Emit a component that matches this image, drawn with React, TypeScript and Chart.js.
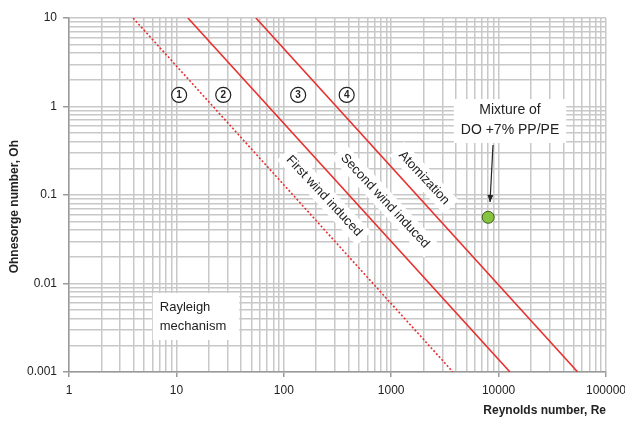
import React, { useEffect, useRef } from "react";
import { Chart, registerables } from "chart.js";

Chart.register(...registerables);

// ---- data ----
const reynoldsMajorTicks = [1, 10, 100, 1000, 10000, 100000];
const ohnesorgeMajorTicks = [0.001, 0.01, 0.1, 1, 10];

const firstWindRe = [3.95, 3760];
const firstWindOh = [10, 0.001];
const secondWindRe = [12.8, 12770];
const secondWindOh = [10, 0.001];
const atomizationRe = [55, 54500];
const atomizationOh = [10, 0.001];

const mixtureRe = [8000];
const mixtureOh = [0.056];

const regionNumbers = ["1", "2", "3", "4"];
const regionRe = [10.6, 27.3, 136, 385];
const regionOh = [1.35, 1.35, 1.35, 1.35];

const regimeNames = ["First wind induced", "Second wind induced", "Atomization"];
const regimeRe = [237, 876, 2020];
const regimeOh = [0.0975, 0.0855, 0.156];

const rayleighLines = ["Rayleigh", "mechanism"];
const rayleighRe = 7.0;
const rayleighOh = [0.00542, 0.00331];

const mixtureLines = ["Mixture of", "DO +7% PP/PE"];
const mixtureLabelRe = 12770;
const mixtureLabelOh = [0.913, 0.543];
const arrowRe = [8870, 8320];
const arrowOh = [0.367, 0.0834];

const FONT = "'Liberation Sans', Arial, sans-serif";
const RED = "#e8302e";

function buildLogTicks(majors: number[]) {
  const out: { value: number; major: boolean }[] = [];
  for (let i = 0; i < majors.length - 1; i++) {
    for (let k = 1; k <= 9; k++) {
      out.push({ value: +(majors[i] * k).toPrecision(6), major: k === 1 });
    }
  }
  out.push({ value: majors[majors.length - 1], major: true });
  return out;
}

function isMajor(v: number, majors: number[]) {
  return majors.some((m) => Math.abs(m - v) / m < 1e-6);
}

const annotationPlugin = {
  id: "annotations",
  beforeDatasetsDraw(chart: any) {
    const { ctx, scales } = chart;
    const x = scales.x;
    const y = scales.y;
    ctx.save();
    ctx.textAlign = "center";
    ctx.textBaseline = "middle";

    // rotated regime labels
    ctx.font = `13px ${FONT}`;
    regimeNames.forEach((name, i) => {
      const px = x.getPixelForValue(regimeRe[i]);
      const py = y.getPixelForValue(regimeOh[i]);
      const w = ctx.measureText(name).width;
      ctx.save();
      ctx.translate(px, py);
      ctx.rotate((47 * Math.PI) / 180);
      ctx.fillStyle = "#ffffff";
      ctx.fillRect(-w / 2 - 6, -10, w + 12, 20);
      ctx.fillStyle = "#222222";
      ctx.fillText(name, 0, 0);
      ctx.restore();
    });

    // Rayleigh box
    ctx.font = `13px ${FONT}`;
    const rx = x.getPixelForValue(rayleighRe);
    const ry0 = y.getPixelForValue(rayleighOh[0]);
    const ry1 = y.getPixelForValue(rayleighOh[1]);
    const rw = Math.max(...rayleighLines.map((t) => ctx.measureText(t).width));
    ctx.fillStyle = "#ffffff";
    ctx.fillRect(rx - 7, ry0 - 14, rw + 20, ry1 - ry0 + 28);
    ctx.fillStyle = "#222222";
    ctx.textAlign = "left";
    ctx.fillText(rayleighLines[0], rx, ry0);
    ctx.fillText(rayleighLines[1], rx, ry1);

    // Mixture box
    ctx.font = `14px ${FONT}`;
    ctx.textAlign = "center";
    const mx = x.getPixelForValue(mixtureLabelRe);
    const my0 = y.getPixelForValue(mixtureLabelOh[0]);
    const my1 = y.getPixelForValue(mixtureLabelOh[1]);
    const mw = Math.max(...mixtureLines.map((t) => ctx.measureText(t).width));
    ctx.fillStyle = "#ffffff";
    ctx.fillRect(mx - mw / 2 - 7, my0 - 11, mw + 14, my1 - my0 + 24);
    ctx.fillStyle = "#222222";
    ctx.fillText(mixtureLines[0], mx, my0);
    ctx.fillText(mixtureLines[1], mx, my1);

    // circled numbers
    ctx.font = `bold 10px ${FONT}`;
    regionNumbers.forEach((n, i) => {
      const px = x.getPixelForValue(regionRe[i]);
      const py = y.getPixelForValue(regionOh[i]);
      ctx.fillStyle = "#ffffff";
      ctx.beginPath();
      ctx.arc(px, py, 7.5, 0, Math.PI * 2);
      ctx.fill();
      ctx.strokeStyle = "#222222";
      ctx.lineWidth = 1.2;
      ctx.stroke();
      ctx.fillStyle = "#222222";
      ctx.fillText(n, px, py + 0.5);
    });
    ctx.restore();
  },
  afterDatasetsDraw(chart: any) {
    const { ctx, scales } = chart;
    const x = scales.x;
    const y = scales.y;
    const x0 = x.getPixelForValue(arrowRe[0]);
    const y0 = y.getPixelForValue(arrowOh[0]);
    const x1 = x.getPixelForValue(arrowRe[1]);
    const y1 = y.getPixelForValue(arrowOh[1]);
    ctx.save();
    ctx.strokeStyle = "#222222";
    ctx.fillStyle = "#222222";
    ctx.lineWidth = 1.2;
    ctx.beginPath();
    ctx.moveTo(x0, y0);
    ctx.lineTo(x1, y1);
    ctx.stroke();
    const a = Math.atan2(y1 - y0, x1 - x0);
    ctx.beginPath();
    ctx.moveTo(x1, y1);
    ctx.lineTo(x1 - 7 * Math.cos(a) + 3 * Math.sin(a), y1 - 7 * Math.sin(a) - 3 * Math.cos(a));
    ctx.lineTo(x1 - 7 * Math.cos(a) - 3 * Math.sin(a), y1 - 7 * Math.sin(a) + 3 * Math.cos(a));
    ctx.closePath();
    ctx.fill();
    ctx.restore();
  },
};

function toPoints(xs: number[], ys: number[]) {
  return xs.map((v, i) => ({ x: v, y: ys[i] }));
}

export default function App() {
  const ref = useRef<HTMLCanvasElement | null>(null);

  useEffect(() => {
    document.body.style.margin = "0";
    const canvas = ref.current;
    if (!canvas) return;
    const lineBase = {
      showLine: true,
      pointRadius: 0,
      borderColor: RED,
      borderWidth: 1.6,
      fill: false,
    };
    const chart = new Chart(canvas, {
      type: "scatter",
      data: {
        datasets: [
          { ...lineBase, label: "First wind", data: toPoints(firstWindRe, firstWindOh), borderDash: [2, 2] },
          { ...lineBase, label: "Second wind", data: toPoints(secondWindRe, secondWindOh) },
          { ...lineBase, label: "Atomization", data: toPoints(atomizationRe, atomizationOh) },
          {
            label: "Mixture",
            data: toPoints(mixtureRe, mixtureOh),
            pointRadius: 6,
            pointBackgroundColor: "#86c440",
            pointBorderColor: "#3d5a1e",
            pointBorderWidth: 1,
          },
        ],
      },
      options: {
        responsive: false,
        animation: false,
        events: [],
        layout: { padding: { top: 18, right: 0, left: 0, bottom: 0 } },
        plugins: { legend: { display: false }, tooltip: { enabled: false } },
        scales: {
          x: {
            type: "logarithmic",
            min: 1,
            max: 100000,
            afterFit: (s: any) => {
              s.height = 49;
              s.paddingLeft = 0;
              s.paddingRight = 19;
            },
            afterBuildTicks: (s: any) => {
              s.ticks = buildLogTicks(reynoldsMajorTicks);
            },
            grid: {
              color: "#c8c8c8",
              lineWidth: 1.5,
              tickLength: 5,
              tickColor: (c: any) => (c.tick && isMajor(c.tick.value, reynoldsMajorTicks) ? "#9a9a9a" : "rgba(0,0,0,0)"),
            },
            border: { color: "#9a9a9a", width: 1.5 },
            ticks: {
              autoSkip: false,
              maxRotation: 0,
              padding: 6,
              color: "#222222",
              font: { family: FONT, size: 12 },
              callback: (v: any) => (isMajor(Number(v), reynoldsMajorTicks) ? String(Number(v)) : ""),
            },
            title: {
              display: true,
              text: "Reynolds number, Re",
              align: "end",
              color: "#222222",
              font: { family: FONT, size: 12, weight: "bold" },
              padding: { top: 0, bottom: 3 },
            },
          },
          y: {
            type: "logarithmic",
            min: 0.001,
            max: 10,
            afterFit: (s: any) => {
              s.width = 69;
              s.paddingTop = 0;
              s.paddingBottom = 0;
            },
            afterBuildTicks: (s: any) => {
              s.ticks = buildLogTicks(ohnesorgeMajorTicks);
            },
            grid: {
              color: "#c8c8c8",
              lineWidth: 1.5,
              tickLength: 6,
              tickColor: (c: any) => (c.tick && isMajor(c.tick.value, ohnesorgeMajorTicks) ? "#9a9a9a" : "rgba(0,0,0,0)"),
            },
            border: { color: "#9a9a9a", width: 1.5 },
            ticks: {
              autoSkip: false,
              padding: 6,
              color: "#222222",
              font: { family: FONT, size: 12 },
              callback: (v: any) => (isMajor(Number(v), ohnesorgeMajorTicks) ? String(Number(v)) : ""),
            },
            title: {
              display: true,
              text: "Ohnesorge number, Oh       ",
              color: "#222222",
              font: { family: FONT, size: 12, weight: "bold" },
              padding: { top: 7, bottom: 0 },
            },
          },
        },
      } as any,
      plugins: [annotationPlugin],
    });
    return () => chart.destroy();
  }, []);

  return <canvas ref={ref} width={625} height={421} style={{ display: "block", width: 625, height: 421 }} />;
}
